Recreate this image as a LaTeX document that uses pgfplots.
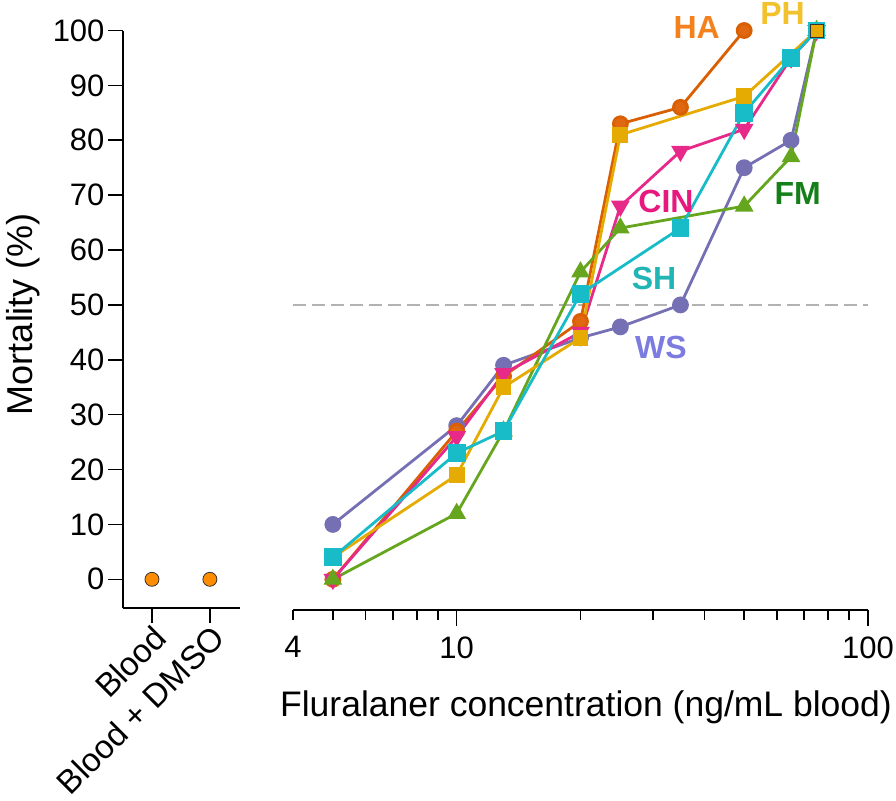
\documentclass[border=0pt]{standalone}
\usepackage{fontspec}
\setmainfont{Liberation Sans}
\usepackage{pgfplots}
\pgfplotsset{compat=1.18}
\definecolor{wsL}{HTML}{7570B3}
\definecolor{wsT}{HTML}{7C7CE0}
\definecolor{haL}{HTML}{D95F02}
\definecolor{haM}{HTML}{E06810}
\definecolor{haT}{HTML}{F3821E}
\definecolor{phL}{HTML}{E6AB02}
\definecolor{phT}{HTML}{F2C12E}
\definecolor{cinL}{HTML}{E7298A}
\definecolor{cinT}{HTML}{E8197E}
\definecolor{shL}{HTML}{17BCC8}
\definecolor{shT}{HTML}{22B5B5}
\definecolor{fmL}{HTML}{66A61E}
\definecolor{fmT}{HTML}{15801A}
\definecolor{bl}{HTML}{FF8C00}
\definecolor{edge}{HTML}{333333}
\begin{document}
\begin{tikzpicture}
\useasboundingbox (0,0) rectangle (896bp,-801bp);
\pgfplotsset{
  common/.style={
    scale only axis, clip=false,
    tick align=outside,
    axis line style={line width=1.6bp, black},
    tick style={line width=1.6bp, black},
    /pgf/number format/assume math mode=true,
    ticklabel style={font=\fontsize{31bp}{37bp}\selectfont},
  },
  ser/.style={line width=2.8bp, mark options={draw=edge, line width=0.8bp, solid}},
}
% left panel
\begin{axis}[common,
  at={(123bp,-30.5bp)}, anchor=north west,
  width=117bp, height=577.5bp,
  xmin=-0.5, xmax=1.52, ymin=-5.23, ymax=100,
  axis x line*=bottom, axis y line*=left,
  xtick={0,1}, xticklabels={Blood, Blood + DMSO},
  ytick={0,10,...,100},
  major tick length=15bp,
  x tick label style={font=\fontsize{33bp}{39bp}\selectfont, inner sep=0pt, rotate=45, anchor=north east},
]
\addplot[only marks, mark=*, mark size=7bp, mark options={fill=bl, draw=edge, line width=0.8bp}]
  coordinates {(0,0) (1,0)};
\end{axis}
% right panel
\begin{axis}[common,
  at={(293bp,-30.5bp)}, anchor=north west,
  width=575bp, height=579.5bp,
  xmode=log, xmin=4, xmax=100, ymin=-5.59, ymax=100,
  axis x line*=bottom, hide y axis,
  xtick={10,100}, xticklabels={10,100},
  extra x ticks={4}, extra x tick labels={4},
  extra x tick style={major tick length=10bp, xticklabel shift=13bp},
  minor xtick={5,6,7,8,9,20,30,40,50,60,70,80,90},
  major tick length=16bp, minor tick length=10bp,
  xticklabel shift=7bp,
]
\addplot[color=black!30, line width=1.4bp, dash pattern=on 13bp off 6bp] coordinates {(4,50) (100,50)};
\addplot[ser, color=wsL, mark=*, mark size=7bp, mark options={fill=wsL}]
  coordinates {(5,10) (10,28) (13,39) (20,44) (25,46) (35,50) (50,75) (65,80) (75,100)};
\addplot[ser, color=haL, mark=*, mark size=7bp, mark options={fill=haM}]
  coordinates {(5,0) (10,27) (13,37) (20,47) (25,83) (35,86) (50,100)};
\addplot[ser, color=cinL, mark=triangle*, mark size=8bp, mark options={fill=cinL, rotate=180}]
  coordinates {(5,0) (10,26) (13,37.5) (20,45) (25,68) (35,78) (50,82) (65,95) (75,100)};
\addplot[ser, color=fmL, mark=triangle*, mark size=8bp, mark options={fill=fmL}]
  coordinates {(5,0) (10,12) (13,27) (20,56) (25,64) (50,68) (65,77) (75,100)};
\addplot[ser, color=phL, mark=square*, mark size=6.5bp, mark options={fill=phL}]
  coordinates {(5,4) (10,19) (13,35) (20,44) (25,81) (50,88) (75,100)};
\addplot[ser, color=shL, mark=square*, mark size=7.5bp, mark options={fill=shL}]
  coordinates {(5,4) (10,23) (13,27) (20,52) (35,64) (50,85) (65,95) (75,100)};
\addplot[only marks, mark=square*, mark size=6.5bp, mark options={fill=phL, draw=edge, line width=0.8bp}]
  coordinates {(75,100)};
\end{axis}
\begin{scope}[every node/.style={font=\fontsize{32bp}{38bp}\selectfont\bfseries}]
\node[text=haT] at (696.7bp,-27.5bp) {HA};
\node[text=phT] at (782.5bp,-13.3bp) {PH};
\node[text=cinT] at (666bp,-201.7bp) {CIN};
\node[text=fmT] at (797.7bp,-193.3bp) {FM};
\node[text=shT] at (654bp,-278.7bp) {SH};
\node[text=wsT] at (661bp,-347bp) {WS};
\end{scope}
\node[rotate=90, anchor=base, font=\fontsize{36bp}{43bp}\selectfont] at (32bp,-314bp) {Mortality (\%)};
\node[anchor=base, font=\fontsize{35.5bp}{42bp}\selectfont] at (586bp,-716bp) {Fluralaner concentration (ng/mL blood)};
\end{tikzpicture}
\end{document}
